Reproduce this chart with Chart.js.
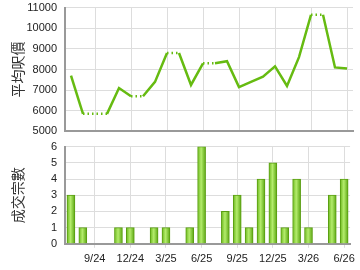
<!DOCTYPE html>
<html>
<head>
<meta charset="utf-8">
<script src="https://cdn.jsdelivr.net/npm/chart.js@4/dist/chart.umd.min.js"></script>
<style>
  html, body { margin: 0; padding: 0; background: #fff; }
  #wrap { width: 360px; height: 270px; position: relative; overflow: hidden; }
  canvas { display: block; position: absolute; left: 0; }
  #priceChart { top: -7px; }
  #countChart { top: 132px; }
</style>
</head>
<body>
<div id="wrap">
  <canvas id="priceChart" width="360" height="153"></canvas>
  <canvas id="countChart" width="360" height="141"></canvas>
</div>
<script>
// ----------------------------
// DATA
// ----------------------------
const months = ["7/24", "8/24", "9/24", "10/24", "11/24", "12/24",
    "1/25", "2/25", "3/25", "4/25", "5/25", "6/25",
    "7/25", "8/25", "9/25", "10/25", "11/25", "12/25",
    "1/26", "2/26", "3/26", "4/26", "5/26", "6/26"];

// average price per sq ft (months without deals carry the last price)
const avgPrice = [7700, 5850, 5850, 5850, 7100, 6700,
    6700, 7400, 8800, 8800, 7250, 8300,
    8300, 8400, 7150, 7400, 7650, 8150,
    7200, 8600, 10650, 10650, 8100, 8050];

// number of transactions
const dealCount = [3, 1, 0, 0, 1, 1,
    0, 1, 1, 0, 1, 6,
    0, 2, 3, 1, 4, 5,
    1, 4, 1, 0, 3, 4];

const labelledMonths = ["9/24", "12/24", "3/25", "6/25", "9/25", "12/25", "3/26", "6/26"];

// ----------------------------
// SHARED STYLE
// ----------------------------
const tickFont = { family: "Liberation Sans", size: 11 };
const titleFont = { family: "Noto Sans CJK TC", size: 14 };
const gridGrey = "#dddddd";
const axisGrey = "#999999";
const lineGreen = "#66bb11";

function monthGridColor(ctx) {
    return labelledMonths.includes(months[ctx.index]) ? gridGrey : "rgba(0,0,0,0)";
}

function fixAxisWidth(scale) {
    scale.width = 65;
}

// ----------------------------
// AVERAGE PRICE (LINE)
// ----------------------------
new Chart(document.getElementById("priceChart"), {
    type: "line",
    data: {
        labels: months,
        datasets: [{
            data: avgPrice,
            borderColor: lineGreen,
            borderWidth: 2.5,
            pointRadius: 0,
            tension: 0,
            fill: false,
            segment: {
                borderDash: ctx => dealCount[ctx.p1DataIndex] === 0 ? [1.5, 3] : undefined
            }
        }]
    },
    options: {
        responsive: false,
        animation: false,
        layout: { padding: { top: 0, right: 7, bottom: 0, left: 0 } },
        plugins: { legend: { display: false }, tooltip: { enabled: false } },
        scales: {
            x: {
                offset: true,
                grid: { offset: false, color: monthGridColor, drawTicks: false },
                border: { color: axisGrey, width: 2 },
                ticks: { display: false }
            },
            y: {
                min: 5000,
                max: 11000,
                afterFit: fixAxisWidth,
                ticks: { stepSize: 1000, color: "#222", font: tickFont, padding: 8, callback: v => String(v) },
                grid: { color: gridGrey, drawTicks: false },
                border: { color: axisGrey, width: 2 },
                title: { display: true, text: "平均呎價", color: "#333", font: titleFont, padding: { top: 9, bottom: 0 } }
            }
        }
    }
});

// ----------------------------
// DEAL COUNT (BARS)
// ----------------------------
function barGradient(ctx) {
    const chart = ctx.chart;
    const xScale = chart.scales.x;
    if (!xScale || ctx.dataIndex === undefined) return "#8fd03a";
    const cx = xScale.getPixelForValue(ctx.dataIndex);
    if (!Number.isFinite(cx)) return "#8fd03a";
    const g = chart.ctx.createLinearGradient(cx - 4, 0, cx + 4, 0);
    g.addColorStop(0, "#6bb81c");
    g.addColorStop(0.45, "#b4ec6c");
    g.addColorStop(1, "#5aa610");
    return g;
}

new Chart(document.getElementById("countChart"), {
    type: "bar",
    data: {
        labels: months,
        datasets: [{
            data: dealCount,
            backgroundColor: barGradient,
            borderColor: "#5a9e12",
            borderWidth: 1,
            barThickness: 8
        }]
    },
    options: {
        responsive: false,
        animation: false,
        layout: { padding: { top: 0, right: 7, bottom: 2, left: 0 } },
        plugins: { legend: { display: false }, tooltip: { enabled: false } },
        scales: {
            x: {
                offset: true,
                grid: { offset: false, color: monthGridColor, tickLength: 4 },
                border: { color: axisGrey, width: 2 },
                ticks: {
                    autoSkip: false,
                    maxRotation: 0,
                    color: "#222",
                    font: tickFont,
                    padding: 5,
                    callback: (v, i) => labelledMonths.includes(months[i]) ? months[i] : ""
                }
            },
            y: {
                min: 0,
                max: 6,
                afterFit: fixAxisWidth,
                ticks: { stepSize: 1, color: "#222", font: tickFont, padding: 8 },
                grid: { color: gridGrey, drawTicks: false },
                border: { color: axisGrey, width: 2 },
                title: { display: true, text: "成交宗數", color: "#333", font: titleFont, padding: { top: 9, bottom: 0 } }
            }
        }
    }
});
</script>
</body>
</html>
